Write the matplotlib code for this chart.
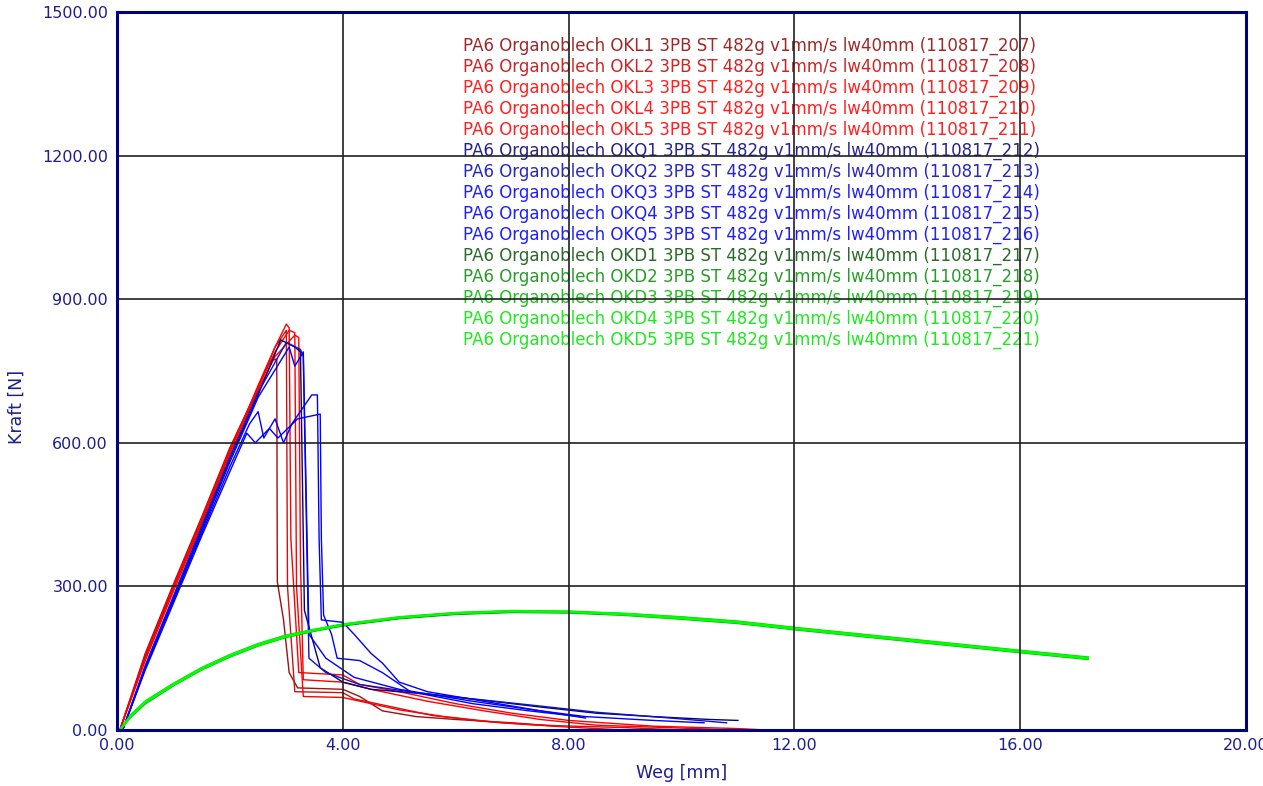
import matplotlib
matplotlib.use("Agg")
import matplotlib.pyplot as plt

# --- data (Weg in mm, Kraft in N) ---
okl1_x = [0.05, 0.5, 1.0, 1.5, 2.0, 2.4, 2.7, 2.83, 2.84, 2.95, 3.05, 3.2, 4.0, 4.3, 4.7, 5.3, 6.0, 7.0, 7.8]
okl1_f = [0, 160, 305, 445, 590, 690, 770, 775, 310, 230, 120, 88, 85, 70, 40, 28, 22, 15, 8]
okl2_x = [0.05, 0.5, 1.0, 1.5, 2.0, 2.5, 2.8, 3.0, 3.02, 3.15, 4.0, 4.2, 4.8, 5.6, 6.5, 7.5, 9.0, 10.0]
okl2_f = [0, 155, 300, 440, 585, 715, 800, 835, 300, 80, 78, 65, 50, 30, 18, 10, 5, 0]
okl3_x = [0.05, 0.5, 1.0, 1.5, 2.0, 2.5, 2.8, 3.0, 3.05, 3.08, 3.22, 4.0, 4.3, 5.0, 6.0, 7.0, 8.0, 9.5, 11.0, 11.5]
okl3_f = [0, 150, 295, 435, 580, 720, 800, 848, 840, 400, 120, 115, 95, 80, 55, 35, 20, 8, 3, 0]
okl4_x = [0.05, 0.5, 1.0, 1.5, 2.0, 2.5, 2.8, 3.15, 3.22, 3.25, 3.3, 4.0, 4.5, 5.5, 6.5, 7.5, 8.5, 10.0, 11.0]
okl4_f = [0, 145, 290, 430, 575, 710, 780, 825, 820, 350, 105, 100, 85, 60, 40, 22, 10, 4, 0]
okl5_x = [0.05, 0.5, 1.0, 1.5, 2.0, 2.5, 2.8, 3.05, 3.15, 3.18, 3.3, 4.0, 4.5, 5.0, 5.8, 6.8, 8.0, 9.0]
okl5_f = [0, 150, 300, 440, 585, 715, 790, 835, 830, 300, 70, 68, 55, 42, 28, 15, 6, 0]

okq1_x = [0.1, 0.5, 1.0, 1.5, 2.0, 2.5, 2.9, 3.15, 3.25, 3.32, 3.6, 4.0, 4.5, 5.5, 6.5, 7.5, 8.5, 9.5, 10.5, 11.0]
okq1_f = [0, 130, 275, 420, 565, 700, 815, 800, 790, 250, 130, 100, 85, 75, 62, 48, 35, 28, 22, 20]
okq2_x = [0.1, 0.5, 1.0, 1.5, 2.0, 2.5, 3.0, 3.25, 3.3, 3.4, 3.7, 4.3, 5.3, 6.3, 7.5, 8.5, 9.8, 10.8]
okq2_f = [0, 135, 280, 425, 570, 705, 810, 795, 780, 150, 120, 95, 78, 65, 50, 37, 25, 15]
okq3_x = [0.1, 0.5, 1.0, 1.5, 2.0, 2.35, 2.5, 2.6, 2.8, 2.95, 3.1, 3.45, 3.55, 3.58, 3.62, 4.0, 4.2, 4.5, 4.7, 5.0, 5.5, 6.5, 7.5, 8.3]
okq3_f = [0, 130, 270, 410, 550, 640, 665, 610, 650, 600, 640, 700, 700, 400, 230, 225, 200, 160, 140, 100, 80, 60, 40, 25]
okq4_x = [0.1, 0.5, 1.0, 1.5, 2.0, 2.3, 2.45, 2.7, 2.85, 3.2, 3.6, 3.62, 3.66, 3.8, 3.9, 4.3, 4.7, 5.2, 6.3, 7.3, 8.2]
okq4_f = [0, 125, 265, 405, 540, 620, 600, 630, 610, 650, 660, 400, 240, 200, 150, 145, 120, 80, 55, 40, 28]
okq5_x = [0.1, 0.5, 1.0, 1.5, 2.0, 2.5, 3.05, 3.15, 3.3, 3.35, 3.4, 3.7, 4.2, 5.0, 6.3, 7.5, 8.3, 9.5, 10.4]
okq5_f = [0, 130, 275, 415, 560, 695, 800, 760, 790, 500, 200, 150, 110, 85, 60, 40, 28, 20, 15]

okd_x = [0.05, 0.25, 0.5, 1.0, 1.5, 2.0, 2.5, 3.0, 3.5, 4.0, 5.0, 6.0, 7.0, 8.0, 9.0, 10.0, 11.0, 12.0, 13.0, 14.0, 15.0, 16.0, 17.2]
okd1_f = [0, 30, 58, 95, 128, 155, 178, 196, 208, 219, 234, 243, 247, 246, 242, 234, 225, 212, 200, 188, 176, 164, 150]
okd2_f = [0, 28, 55, 93, 126, 153, 176, 194, 207, 218, 233, 242, 246, 245, 240, 232, 223, 210, 198, 186, 174, 162, 148]
okd3_f = [0, 32, 60, 97, 130, 157, 180, 198, 210, 221, 236, 245, 249, 248, 243, 236, 227, 214, 202, 190, 178, 166, 152]
okd4_f = [0, 29, 57, 94, 127, 154, 177, 195, 208, 220, 235, 244, 248, 247, 241, 233, 224, 211, 199, 187, 175, 163, 149]
okd5_f = [0, 31, 59, 96, 129, 156, 179, 197, 209, 220, 235, 244, 248, 246, 243, 235, 226, 213, 201, 189, 177, 165, 151]

names = ["OKL1", "OKL2", "OKL3", "OKL4", "OKL5",
         "OKQ1", "OKQ2", "OKQ3", "OKQ4", "OKQ5",
         "OKD1", "OKD2", "OKD3", "OKD4", "OKD5"]
ids = ["207", "208", "209", "210", "211", "212", "213", "214",
       "215", "216", "217", "218", "219", "220", "221"]

curves = [
    (okl1_x, okl1_f, "#a01010"), (okl2_x, okl2_f, "#c81414"),
    (okl3_x, okl3_f, "#ff0000"), (okl4_x, okl4_f, "#ff0000"), (okl5_x, okl5_f, "#ff0000"),
    (okq1_x, okq1_f, "#000080"), (okq2_x, okq2_f, "#1010c0"),
    (okq3_x, okq3_f, "#0000ff"), (okq4_x, okq4_f, "#0000ff"), (okq5_x, okq5_f, "#0000ff"),
    (okd_x, okd1_f, "#106010"), (okd_x, okd2_f, "#10a010"), (okd_x, okd3_f, "#10c810"),
    (okd_x, okd4_f, "#00ff00"), (okd_x, okd5_f, "#00ff00"),
]
widths = [1.0] * 10 + [1.4] * 5
text_colors = ["#a02828", "#d02424", "#ff2020", "#ff2020", "#ff2020",
               "#24248c", "#2828c0", "#2020ff", "#2020ff", "#2020ff",
               "#2a6a2a", "#2a9a2a", "#20c020", "#20e820", "#20e820"]

navy = "#000080"
label_col = "#1e1e8e"

fig = plt.figure(figsize=(12.63, 7.86), dpi=100)
ax = fig.add_axes([117 / 1263, 1 - 730 / 786, (1246 - 117) / 1263, (730 - 12) / 786])

for (x, f, c), lw in zip(curves, widths):
    ax.plot(x, f, color=c, linewidth=lw, zorder=2)

ax.set_xlim(0, 20)
ax.set_ylim(0, 1500)
ax.set_xticks([0, 4, 8, 12, 16, 20])
ax.set_yticks([0, 300, 600, 900, 1200, 1500])
ax.xaxis.set_major_formatter(matplotlib.ticker.FormatStrFormatter("%.2f"))
ax.yaxis.set_major_formatter(matplotlib.ticker.FormatStrFormatter("%.2f"))
ax.tick_params(length=0, labelsize=11.5, labelcolor=label_col)
ax.tick_params(axis="x", pad=6)
ax.tick_params(axis="y", pad=6.5)
ax.set_axisbelow(False)
ax.grid(True, color="#202020", linewidth=1.2)
for s in ax.spines.values():
    s.set_color(navy)
    s.set_linewidth(2.2)
    s.set_zorder(5)

ax.set_xlabel("Weg [mm]", fontsize=12.5, color=label_col, labelpad=8)
ax.set_ylabel("Kraft [N]", fontsize=12.5, color=label_col)
ax.yaxis.set_label_coords(-0.0806, 0.45)

for i, (n, tid) in enumerate(zip(names, ids)):
    y = (730 - 46 - 21 * i) / 718
    ax.text(0.3065, y, f"PA6 Organoblech {n} 3PB ST 482g v1mm/s lw40mm (110817_{tid})",
            transform=ax.transAxes, color=text_colors[i], fontsize=12,
            va="center", ha="left", zorder=2)

fig.savefig("out.png", dpi=100)
